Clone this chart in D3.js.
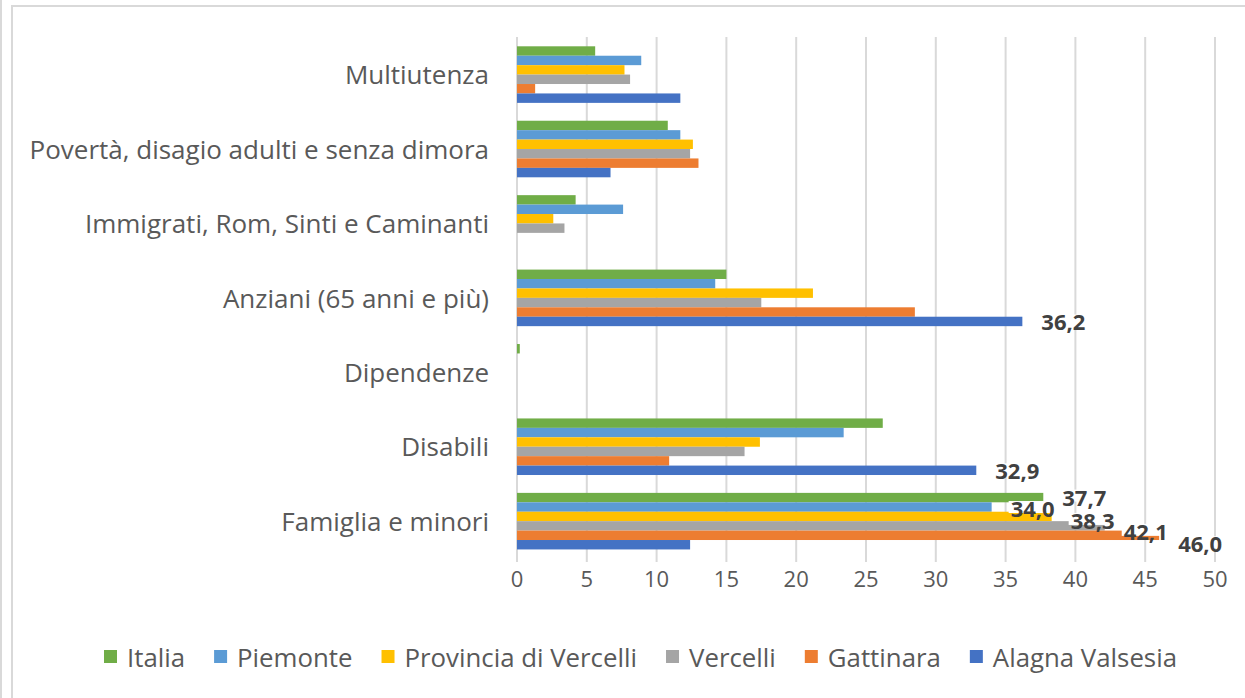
<!DOCTYPE html>
<html>
<head>
<meta charset="utf-8">
<script src="https://cdn.jsdelivr.net/npm/d3@7"></script>
<style>
  html, body { margin: 0; padding: 0; background: #fff; }
  svg { display: block; }
  text { font-family: "Open Sans", "Noto Sans", sans-serif; }
</style>
</head>
<body>
<svg id="chart" width="1245" height="698"></svg>
<script>
// Categories (top to bottom) and series
const categories = [
  "Multiutenza",
  "Povertà, disagio adulti e senza dimora",
  "Immigrati, Rom, Sinti e Caminanti",
  "Anziani (65 anni e più)",
  "Dipendenze",
  "Disabili",
  "Famiglia e minori"
];
const seriesNames = ["Italia", "Piemonte", "Provincia di Vercelli", "Vercelli", "Gattinara", "Alagna Valsesia"];

// Values (%) per category, in the order above
const italia    = [5.6, 10.8, 4.2, 15.0, 0.2, 26.2, 37.7];
const piemonte  = [8.9, 11.7, 7.6, 14.2, 0.0, 23.4, 34.0];
const provincia = [7.7, 12.6, 2.6, 21.2, 0.0, 17.4, 38.3];
const vercelli  = [8.1, 12.4, 3.4, 17.5, 0.0, 16.3, 42.1];
const gattinara = [1.3, 13.0, 0.0, 28.5, 0.0, 10.9, 46.0];
const alagna    = [11.7, 6.7, 0.0, 36.2, 0.0, 32.9, 12.4];

const xTicks = [0, 5, 10, 15, 20, 25, 30, 35, 40, 45, 50];

// Values that carry a data label: [series index, category index]
const labelled = [[0, 6], [1, 6], [2, 6], [3, 6], [4, 6], [5, 3], [5, 5]];

const colors = ["#70AD47", "#5B9BD5", "#FFC000", "#A5A5A5", "#ED7D31", "#4472C4"];
const values = [italia, piemonte, provincia, vercelli, gattinara, alagna];

const svg = d3.select("#chart");

// outer frame lines
svg.append("line").attr("x1", 1).attr("x2", 1).attr("y1", 0).attr("y2", 698)
  .attr("stroke", "#d9d9d9").attr("stroke-width", 2);
svg.append("line").attr("x1", 12).attr("x2", 12).attr("y1", 6).attr("y2", 698)
  .attr("stroke", "#d9d9d9").attr("stroke-width", 2);
svg.append("line").attr("x1", 11).attr("x2", 1245).attr("y1", 6).attr("y2", 6)
  .attr("stroke", "#d9d9d9").attr("stroke-width", 2);

const x = d3.scaleLinear().domain([0, 50]).range([517, 1215]);
const y = d3.scaleBand().domain(categories).range([37, 558]).padding(0);
const inner = d3.scaleBand().domain(d3.range(seriesNames.length))
  .range([y.bandwidth() * 0.125, y.bandwidth() * 0.885]).padding(0);

// vertical gridlines
svg.append("g").selectAll("line").data(xTicks).join("line")
  .attr("x1", d => x(d)).attr("x2", d => x(d))
  .attr("y1", 37).attr("y2", 562)
  .attr("stroke", "#d9d9d9").attr("stroke-width", 2);

// x tick labels
svg.append("g").selectAll("text").data(xTicks).join("text")
  .attr("x", d => x(d)).attr("y", 578)
  .attr("text-anchor", "middle").attr("dominant-baseline", "central")
  .attr("font-size", 22).attr("fill", "#595959")
  .text(d => d);

// category labels
svg.append("g").selectAll("text").data(categories).join("text")
  .attr("x", 489).attr("y", d => y(d) + y.bandwidth() / 2)
  .attr("text-anchor", "end").attr("dominant-baseline", "central")
  .attr("font-size", 26).attr("fill", "#595959")
  .text(d => d);

// bars
const cells = [];
values.forEach((arr, s) => arr.forEach((v, c) => cells.push({ s, c, v })));
svg.append("g").selectAll("rect").data(cells.filter(d => d.v > 0)).join("rect")
  .attr("x", x(0))
  .attr("y", d => y(categories[d.c]) + inner(d.s))
  .attr("width", d => x(d.v) - x(0))
  .attr("height", inner.bandwidth())
  .attr("fill", d => colors[d.s]);

// data labels on a small white box just right of the bar end;
// the crowded ones in the last group are spread downward
const spread = { "0-6": -1, "1-6": 1, "2-6": 3.5, "3-6": 5, "4-6": 8 };
const fmt = v => v.toFixed(1).replace(".", ",");
const lg = svg.append("g");
labelled.forEach(([s, c]) => {
  const v = values[s][c];
  const cx = x(v) + 19;
  const cy = y(categories[c]) + inner(s) + inner.bandwidth() / 2 + (spread[s + "-" + c] || 0);
  const box = lg.append("rect").attr("fill", "#fff");
  const t = lg.append("text")
    .attr("x", cx).attr("y", cy)
    .attr("dominant-baseline", "central")
    .attr("font-size", 22).attr("font-weight", "bold").attr("fill", "#404040")
    .text(fmt(v));
  const w = t.node().getComputedTextLength();
  box.attr("x", cx - 2).attr("y", cy - 7).attr("width", w + 4).attr("height", 12);
});

// legend
const leg = svg.append("g");
let lx = 104;
seriesNames.forEach((name, i) => {
  leg.append("rect").attr("x", lx).attr("y", 650).attr("width", 13).attr("height", 13).attr("fill", colors[i]);
  const t = leg.append("text").attr("x", lx + 23).attr("y", 657)
    .attr("dominant-baseline", "central")
    .attr("font-size", 25.8).attr("fill", "#595959").text(name);
  lx += 23 + t.node().getComputedTextLength() + 29;
});
</script>
</body>
</html>
